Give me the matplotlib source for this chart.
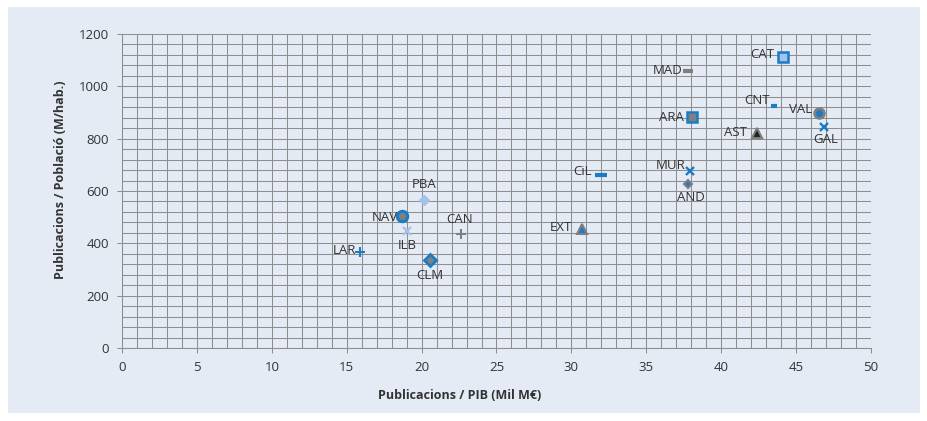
import matplotlib
matplotlib.use("Agg")
import matplotlib.pyplot as plt
from matplotlib.patches import Rectangle
from matplotlib.ticker import MultipleLocator

plt.rcParams['font.family'] = ['Open Sans', 'DejaVu Sans']

# regions: code, x (publicacions / PIB), y (publicacions / poblacio)
codes = ["LAR", "NAV", "ILB", "PBA", "CLM", "CAN", "EXT", "CiL", "MUR",
         "AND", "ARA", "MAD", "AST", "CAT", "CNT", "VAL", "GAL"]
pub_pib = [15.9, 18.7, 19.05, 20.14, 20.54, 22.63, 30.73, 32.0, 37.92,
           37.8, 38.05, 37.8, 42.37, 44.13, 43.52, 46.53, 46.88]
pub_pob = [366, 504, 447, 567, 338, 434, 454, 660, 677,
           627, 881, 1060, 823, 1111, 926, 899, 844]

blue = "#1b7cc6"
grey = "#7f7f7f"
light = "#a6c2e8"
dark = "#222222"

# marker style per region: marker, size, facecolor, edgecolor, edgewidth
styles = {
    "LAR": ("+", 7, blue, blue, 1.5),
    "NAV": ("o", 7.5, grey, blue, 2.2),
    "ILB": ("x", 6, light, light, 1.7),
    "PBA": ("D", 5.5, light, light, 1.0),
    "CLM": ("D", 6.5, grey, blue, 2.0),
    "CAN": ("+", 7, grey, grey, 1.5),
    "EXT": ("^", 7, blue, grey, 1.5),
    "CiL": ("_", 9, blue, blue, 3.0),
    "MUR": ("x", 6, blue, blue, 1.7),
    "AND": ("D", 4.5, blue, grey, 1.5),
    "ARA": ("s", 7, grey, blue, 1.8),
    "MAD": ("_", 7, grey, grey, 3.0),
    "AST": ("^", 7, dark, grey, 1.5),
    "CAT": ("s", 7, light, blue, 1.8),
    "CNT": ("_", 5, blue, blue, 3.0),
    "VAL": ("o", 7, blue, grey, 2.0),
    "GAL": ("x", 6, blue, blue, 1.7),
}

# label placement: (dx, dy) in points, ha, va
label_pos = {
    "LAR": (-3, 1, "right", "center"),
    "NAV": (-3, -1, "right", "center"),
    "ILB": (0, -6, "center", "top"),
    "PBA": (0, 6, "center", "bottom"),
    "CLM": (0, -7, "center", "top"),
    "CAN": (-1, 6, "center", "bottom"),
    "EXT": (-7, 1, "right", "center"),
    "CiL": (-7, 3, "right", "center"),
    "MUR": (-3, 4, "right", "center"),
    "AND": (2, -5, "center", "top"),
    "ARA": (-6, 0, "right", "center"),
    "MAD": (-4, 0, "right", "center"),
    "AST": (-7, 0, "right", "center"),
    "CAT": (-6, 2, "right", "center"),
    "CNT": (-3, 4, "right", "center"),
    "VAL": (-5, 2, "right", "center"),
    "GAL": (1, -4, "center", "top"),
}

fig = plt.figure(figsize=(9.28, 4.21), dpi=100)
fig.patches.append(Rectangle((8 / 928, 1 - 413 / 421), 912 / 928, 406 / 421,
                             transform=fig.transFigure, facecolor="#e4ebf5",
                             edgecolor="none", zorder=-10))
ax = fig.add_axes([122 / 928, 1 - 348 / 421, 749 / 928, 314 / 421])
ax.set_facecolor("#e4ebf5")

for c, x, y in zip(codes, pub_pib, pub_pob):
    m, s, fc, ec, lw = styles[c]
    if m in ("+", "x", "_"):
        ax.plot(x, y, marker=m, ms=s, color=fc, mew=lw, linestyle="none", zorder=4)
    else:
        ax.plot(x, y, marker=m, ms=s, markerfacecolor=fc, markeredgecolor=ec,
                mew=lw, linestyle="none", zorder=4)
    dx, dy, ha, va = label_pos[c]
    ax.annotate(c, (x, y), xytext=(dx, dy), textcoords="offset points",
                ha=ha, va=va, fontsize=9.5, color="#333333", zorder=5)

ax.set_xlim(0, 50)
ax.set_ylim(0, 1200)
ax.xaxis.set_major_locator(MultipleLocator(5))
ax.xaxis.set_minor_locator(MultipleLocator(1))
ax.yaxis.set_major_locator(MultipleLocator(200))
ax.yaxis.set_minor_locator(MultipleLocator(40))
ax.grid(which="both", color="#8e8e8e", linewidth=0.75)
ax.set_axisbelow(True)
ax.tick_params(which="major", length=3.5, width=0.75, color="#8e8e8e",
               labelsize=9.5, labelcolor="#333333", pad=6)
ax.tick_params(which="minor", length=0)
for side in ("top", "right"):
    ax.spines[side].set_visible(False)
for side in ("left", "bottom"):
    ax.spines[side].set_color("#8e8e8e")
    ax.spines[side].set_linewidth(0.75)

ax.set_xlabel("Publicacions / PIB (Mil M€)", fontsize=9, fontweight="bold",
              color="#333333")
ax.set_ylabel("Publicacions / Població (M/hab.)", fontsize=9, fontweight="bold",
              color="#333333")
ax.xaxis.set_label_coords((460 - 122) / 749, -(389 - 348) / 314)
ax.yaxis.set_label_coords((67 - 122) / 749, (348 - 180) / 314)

fig.savefig("out.png", dpi=100, facecolor="white")
